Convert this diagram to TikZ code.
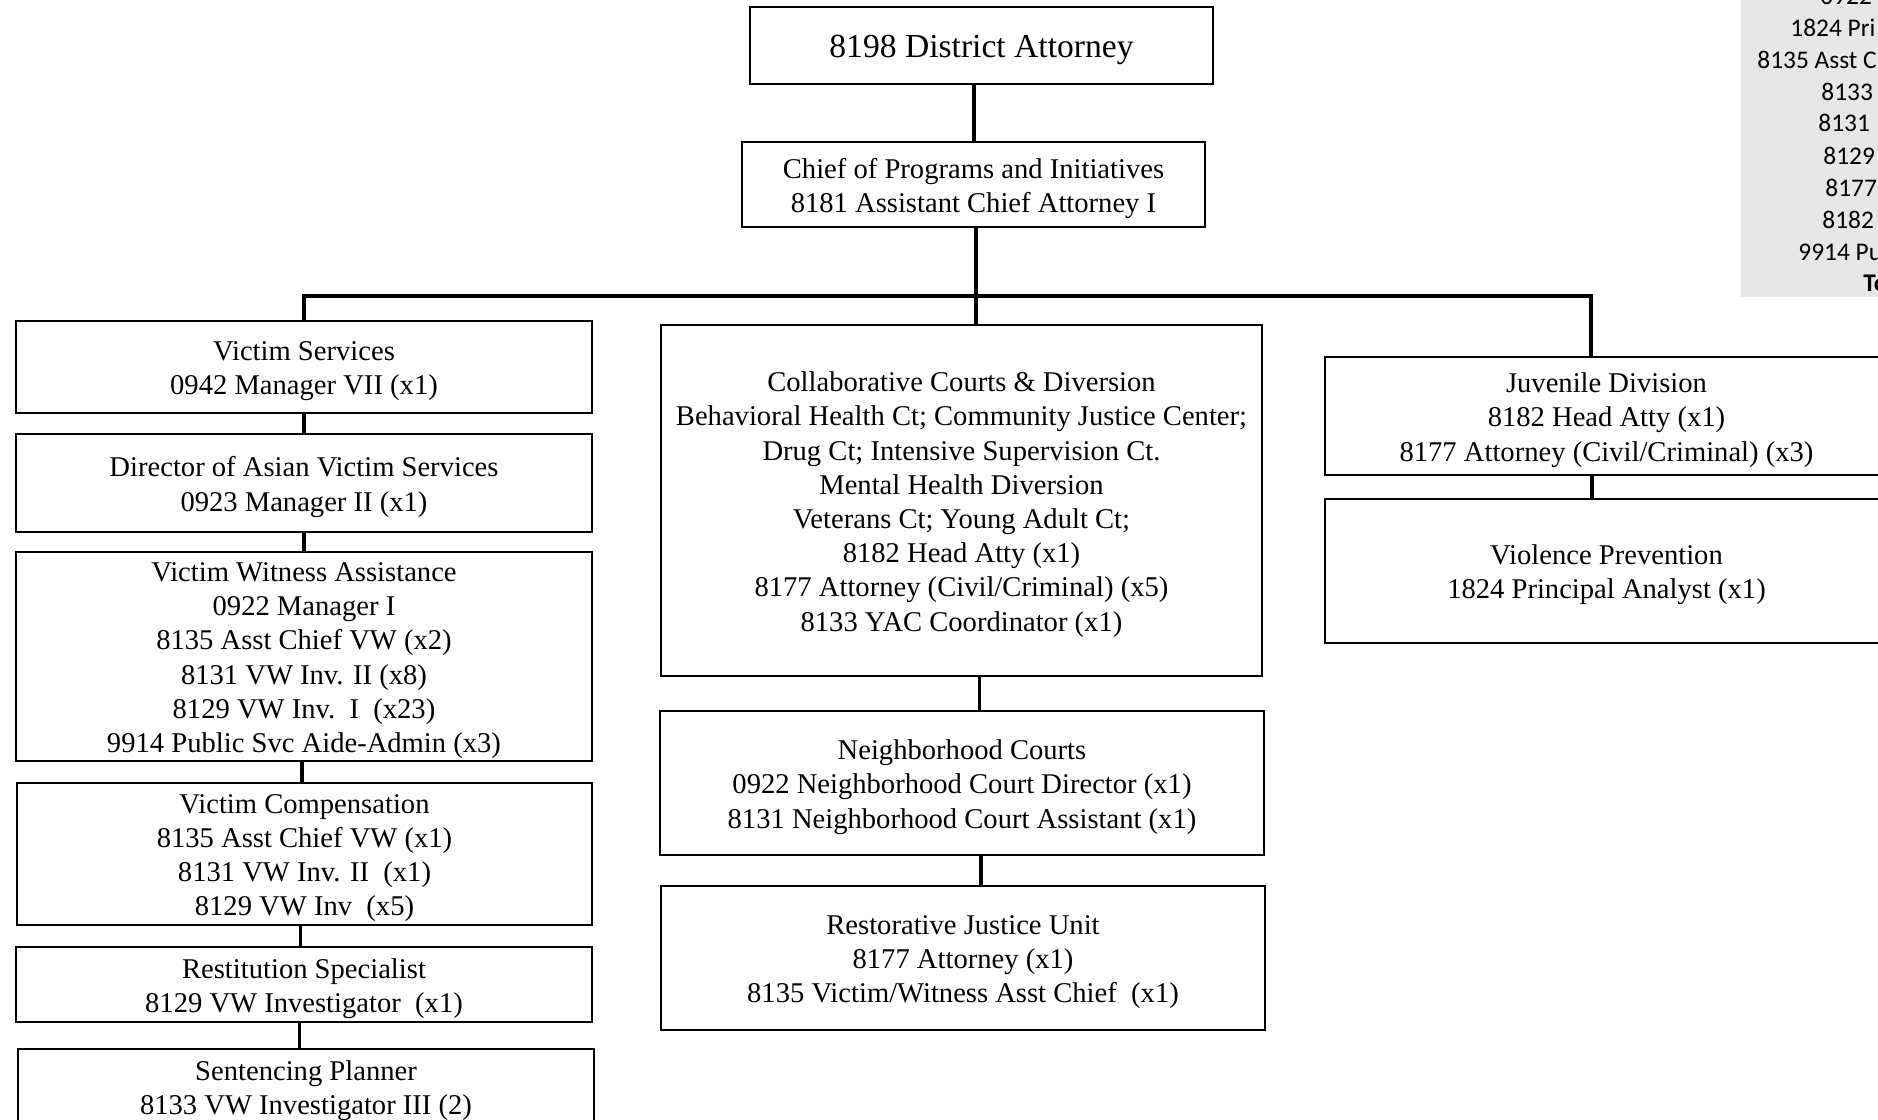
\documentclass[tikz,border=0pt]{standalone}
\usepackage{fontspec}
\setmainfont{Liberation Serif}
\newfontfamily\tabfont{Carlito}
\usetikzlibrary{positioning, fit, calc}
\definecolor{tabgrau}{RGB}{231,231,231}
\tikzset{kasten/.style={inner sep=0pt, draw, line width=0.9pt}}
\tikzset{beschriftung/.style={inner sep=0pt, yshift=-2pt, align=center, font=\fontsize{14.3}{17.1}\selectfont}}
\tikzset{linie/.style={line width=1.6pt}}
\tikzset{tabtext/.style={anchor=west, inner sep=0pt, font=\tabfont\fontsize{12.7}{16}\selectfont}}

\begin{document}
\begin{tikzpicture}[x=0.5pt, y=-0.5pt]
		\useasboundingbox (0,0) rectangle (1878,1119);
		\clip (0,0) rectangle (1878,1119);
		
		% TABELLE (rechts oben, abgeschnitten)
		\fill[tabgrau] (1741,-10) rectangle (1890,297);
		\foreach \tx/\ty/\ttxt [count=\k] in {1820/-4/0922, 1790/28/1824 Pri, 1757/60/8135 Asst C, 1821/92/8133, 1818/123/8131, 1823/156/8129, 1825/188/8177, 1822/220/8182, 1798/252/9914 Pu} {
			\node[tabtext] (tab\k) at (\tx,\ty) {\ttxt};
		}
		\node[tabtext, font=\tabfont\bfseries\fontsize{12.7}{16}\selectfont] (tabsum) at (1863,283) {To};
		
		% SPITZE
		\node[kasten, fit={(750,7) (1213,84)}] (da) {};
		\node[beschriftung, font=\fontsize{16.8}{20}\selectfont] (daText) at (da.center) {8198 District Attorney};
		\node[kasten, fit={(742,142) (1205,227)}] (chief) {};
		\node[beschriftung] (chiefText) at (chief.center) {Chief of Programs and Initiatives\\8181 Assistant Chief Attorney I};
		
		% LINKE SPALTE
		\node[kasten, fit={(16,321) (592,413)}] (vs) {};
		\node[beschriftung] (vsText) at (vs.center) {Victim Services\\0942 Manager VII (x1)};
		\node[kasten, fit={(16,434) (592,532)}] (davs) {};
		\node[beschriftung] (davsText) at (davs.center) {Director of Asian Victim Services\\0923 Manager II (x1)};
		\node[kasten, fit={(16,552) (592,761)}] (vwa) {};
		\node[beschriftung] (vwaText) at (vwa.center) {Victim Witness Assistance\\0922 Manager I\\8135 Asst Chief VW (x2)\\8131 VW Inv. II (x8)\\8129 VW Inv.~~I~~(x23)\\9914 Public Svc Aide-Admin (x3)};
		\node[kasten, fit={(17,783) (592,925)}] (vc) {};
		\node[beschriftung] (vcText) at (vc.center) {Victim Compensation\\8135 Asst Chief VW (x1)\\8131 VW Inv. II~~(x1)\\8129 VW Inv~~(x5)};
		\node[kasten, fit={(16,947) (592,1022)}] (rest) {};
		\node[beschriftung] (restText) at (rest.center) {Restitution Specialist\\8129 VW Investigator~~(x1)};
		\node[kasten, fit={(18,1049) (594,1125)}] (sent) {};
		\node[beschriftung] (sentText) at (sent.center) {Sentencing Planner\\8133 VW Investigator III (2)};
		
		% MITTLERE SPALTE
		\node[kasten, fit={(661,325) (1262,676)}] (collab) {};
		\node[beschriftung] (collabText) at (collab.center) {Collaborative Courts \& Diversion\\Behavioral Health Ct; Community Justice Center;\\Drug Ct; Intensive Supervision Ct.\\Mental Health Diversion\\Veterans Ct; Young Adult Ct;\\8182 Head Atty (x1)\\8177 Attorney (Civil/Criminal) (x5)\\8133 YAC Coordinator (x1)};
		\node[kasten, fit={(660,711) (1264,855)}] (neigh) {};
		\node[beschriftung] (neighText) at (neigh.center) {Neighborhood Courts\\0922 Neighborhood Court Director (x1)\\8131 Neighborhood Court Assistant (x1)};
		\node[kasten, fit={(661,886) (1265,1030)}] (restor) {};
		\node[beschriftung] (restorText) at (restor.center) {Restorative Justice Unit\\8177 Attorney (x1)\\8135 Victim/Witness Asst Chief~~(x1)};
		
		% RECHTE SPALTE
		\node[kasten, fit={(1325,357) (1888,475)}] (juv) {};
		\node[beschriftung] (juvText) at (juv.center) {Juvenile Division\\8182 Head Atty (x1)\\8177 Attorney (Civil/Criminal) (x3)};
		\node[kasten, fit={(1325,499) (1888,643)}] (viol) {};
		\node[beschriftung] (violText) at (viol.center) {Violence Prevention\\1824 Principal Analyst (x1)};
		
		% VERBINDUNGEN
		\coordinate (bus) at (976,296);
		\draw[linie] ([xshift=-3.75pt]da.south) -- ([xshift=-3.75pt]da.south |- chief.north);
		\draw[linie] ([xshift=1.25pt]chief.south) -- (bus);
		\draw[linie] (vs.north) |- (bus) -| ([xshift=-7.75pt]juv.north);
		\draw[linie] (bus) -- (bus |- collab.north);
		
		\draw[linie] (vs.south) -- (vs.south |- davs.north);
		\draw[linie] (davs.south) -- (davs.south |- vwa.north);
		\draw[linie] ([xshift=-1pt]vwa.south) -- ([xshift=-1pt]vwa.south |- vc.north);
		\draw[linie] ([xshift=-2pt]vc.south) -- ([xshift=-2pt]vc.south |- rest.north);
		\draw[linie] ([xshift=-2.25pt]rest.south) -- ([xshift=-2.25pt]rest.south |- sent.north);
		
		\draw[linie] ([xshift=9.1pt]collab.south) -- ([xshift=9.1pt]collab.south |- neigh.north);
		\draw[linie] ([xshift=9.5pt]neigh.south) -- ([xshift=9.5pt]neigh.south |- restor.north);
		
		\draw[linie] ([xshift=-7.25pt]juv.south) -- ([xshift=-7.25pt]juv.south |- viol.north);
		
	\end{tikzpicture}
\end{document}
